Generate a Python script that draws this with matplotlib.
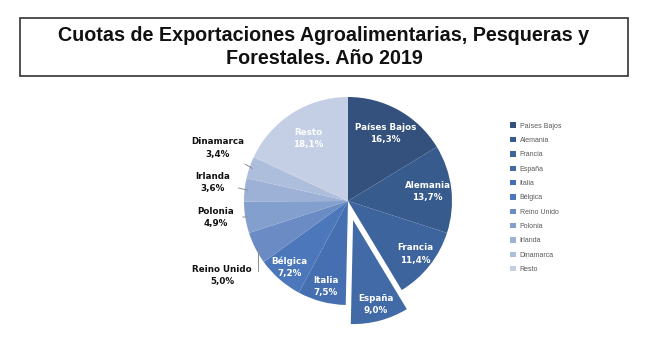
import numpy as np
import matplotlib
matplotlib.use("Agg")
import matplotlib.pyplot as plt
from matplotlib.patches import Rectangle

plt.rcParams['font.family'] = ['Liberation Sans', 'DejaVu Sans']

title = "Cuotas de Exportaciones Agroalimentarias, Pesqueras y\nForestales. Año 2019"
categories = ["Países Bajos", "Alemania", "Francia", "España", "Italia", "Bélgica",
              "Reino Unido", "Polonia", "Irlanda", "Dinamarca", "Resto"]
values = [16.3, 13.7, 11.4, 9.0, 7.5, 7.2, 5.0, 4.9, 3.6, 3.4, 18.1]
colors = ["#34507c", "#385b8e", "#3d649d", "#416aa6", "#456fb0", "#4c78bb",
          "#6a8bc3", "#839fce", "#9db1d6", "#adbedd", "#c4cfe5"]
outside = {"Reino Unido", "Polonia", "Irlanda", "Dinamarca"}

W, H = 650, 350
fig = plt.figure(figsize=(W / 100, H / 100), dpi=100)

# title box
bx0, bx1, by0, by1 = 20, 628, 18, 76
fig.patches.append(Rectangle((bx0 / W, 1 - by1 / H), (bx1 - bx0) / W, (by1 - by0) / H,
                             transform=fig.transFigure, fill=False, edgecolor="#333333",
                             linewidth=1.2))
fig.text((bx0 + bx1) / 2 / W, 1 - 47 / H, title, ha="center", va="center",
         fontsize=14.2, fontweight="bold", linespacing=1.3, color="#111111")

# pie axes: centre (348, 201) px, radius 104 px
cx, cy, r = 348, 201, 104
L = 1.6
aw = 2 * L * r
ax = fig.add_axes([(cx - L * r) / W, (H - cy - L * r) / H, aw / W, aw / H])

explode = [0.19 if c == "España" else 0 for c in categories]
wedges, _ = ax.pie(values, colors=colors, startangle=90, counterclock=False,
                   explode=explode, radius=1.0, wedgeprops=dict(linewidth=0))
ax.set_xlim(-L, L)
ax.set_ylim(-L, L)
ax.set_aspect("equal")
ax.axis("off")

def fmt(v):
    return f"{v:.1f}".replace(".", ",") + "%"

lab_font = dict(family="DejaVu Sans", fontsize=6.3, fontweight="bold", linespacing=1.45)
inner_r = {"Países Bajos": 0.74, "Alemania": 0.77, "Francia": 0.82, "España": 0.84,
           "Italia": 0.85, "Bélgica": 0.85, "Resto": 0.71}
outer_pos = {"Dinamarca": (-1.25, 0.51), "Irlanda": (-1.30, 0.18),
             "Polonia": (-1.27, -0.16), "Reino Unido": (-1.21, -0.72)}
conn = {"Dinamarca": "arc3", "Irlanda": "arc3", "Polonia": "arc3",
        "Reino Unido": "angle,angleA=0,angleB=90,rad=0"}

for w, c, v, e in zip(wedges, categories, values, explode):
    mid = np.deg2rad((w.theta1 + w.theta2) / 2)
    dx, dy = np.cos(mid), np.sin(mid)
    if c in outside:
        tx, ty = outer_pos[c]
        ax.annotate(f"{c}\n{fmt(v)}", xy=(dx * 0.97, dy * 0.97), xytext=(tx, ty),
                    ha="center", va="center", color="#111111",
                    arrowprops=dict(arrowstyle="-", color="#8c8c8c", lw=0.7,
                                    shrinkA=4, shrinkB=0, connectionstyle=conn[c]),
                    **lab_font)
    else:
        rr = inner_r[c] + e
        ax.text(dx * rr, dy * rr, f"{c}\n{fmt(v)}", ha="center", va="center",
                color="white", **lab_font)

leg = fig.legend(wedges, categories, loc="upper left",
                 bbox_to_anchor=(507 / W, 1 - 119 / H), frameon=False,
                 fontsize=5, handlelength=0.8, handleheight=0.8, handletextpad=0.5,
                 labelspacing=1.05, borderpad=0)
for t in leg.get_texts():
    t.set_color("#595959")

fig.savefig("out.png", dpi=100)
